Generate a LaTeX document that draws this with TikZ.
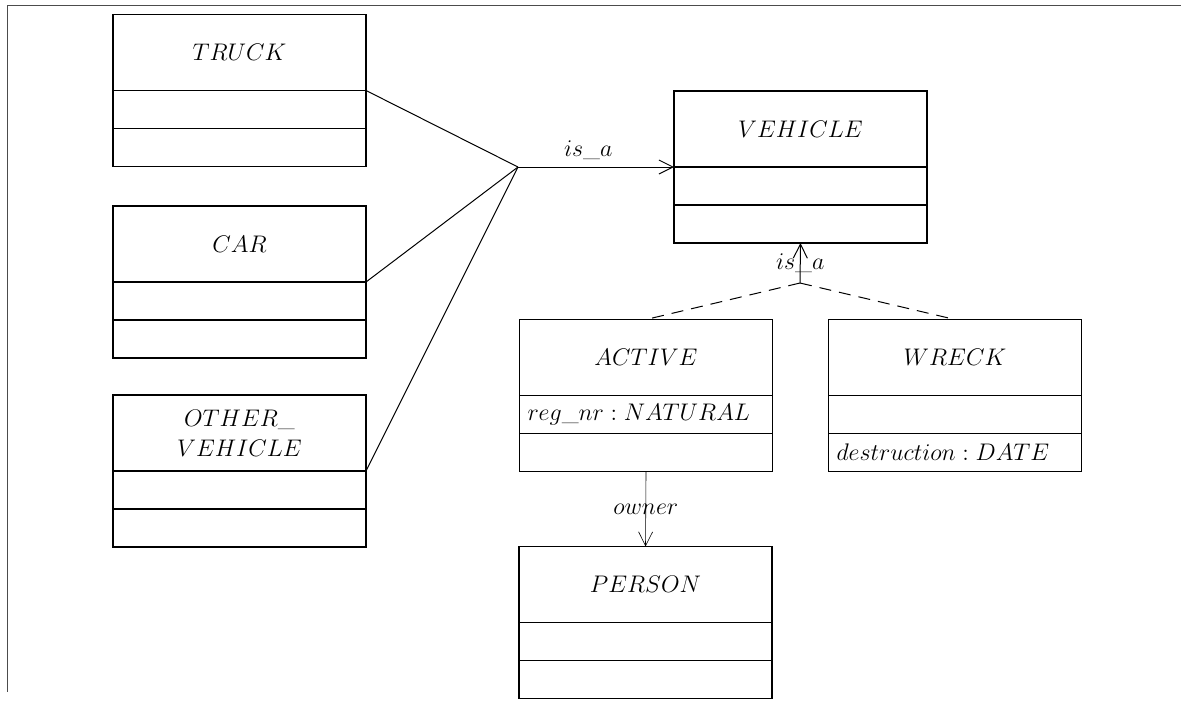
\documentclass[tikz,border=0pt]{standalone}
\usepackage{amsmath}
\usetikzlibrary{arrows.meta}
\usetikzlibrary{positioning}
\tikzstyle{cls}=[draw, rectangle, line width=.8pt, minimum width=126.5pt, minimum height=38pt, outer sep=0pt, align=center]
\tikzstyle{slot}=[draw, rectangle, line width=.8pt, minimum height=19pt, text width=118.5pt, inner xsep=4pt, inner ysep=0pt, outer sep=0pt, align=left]
\tikzstyle{lnk}=[line width=.5pt]
\tikzstyle{isa}=[lnk, -{Straight Barb[length=7pt,width=7pt]}]

\begin{document}
\begin{tikzpicture}[x=.5pt, y=-.5pt, font=\fontsize{11.5}{15}\selectfont]
    \useasboundingbox (0,0) rectangle (1181,703);
    \draw[black!70, line width=.4pt] (1181,5) -- (7,5) -- (7,692);
    % subclasses on the left
    \node[cls] (truck) at (239.5,52.5) {$TRUCK$};
    \node[slot, below=0pt of truck] (truck-a) {};
    \node[slot, below=0pt of truck-a] (truck-o) {};
    \node[cls] (car) at (239.5,244) {$CAR$};
    \node[slot, below=0pt of car] (car-a) {};
    \node[slot, below=0pt of car-a] (car-o) {};
    \node[cls] (other) at (239.5,433) {$OTHER\_$\\$VEHICLE$};
    \node[slot, below=0pt of other] (other-a) {};
    \node[slot, below=0pt of other-a] (other-o) {};
    % superclass
    \node[cls] (vehicle) at (800.5,129) {$VEHICLE$};
    \node[slot, below=0pt of vehicle] (vehicle-a) {};
    \node[slot, below=0pt of vehicle-a] (vehicle-o) {};
    % states
    \node[cls] (active) at (646,357.5) {$ACTIVE$};
    \node[slot, below=0pt of active] (active-a) {$reg\_nr : NATURAL$};
    \node[slot, below=0pt of active-a] (active-o) {};
    \node[cls] (wreck) at (955,357.5) {$WRECK$};
    \node[slot, below=0pt of wreck] (wreck-a) {};
    \node[slot, below=0pt of wreck-a] (wreck-o) {$destruction : DATE$};
    \node[cls] (person) at (645.5,584.5) {$PERSON$};
    \node[slot, below=0pt of person] (person-a) {};
    \node[slot, below=0pt of person-a] (person-o) {};
    % links
    \coordinate (fork) at (518,167);
    \coordinate (split) at (800,283);
    \foreach \from in {truck, car, other}
      \draw[lnk] (\from.south east) -- (fork);
    \draw[isa] (fork) -- node[above, pos=.45] {$is\_a$} (vehicle.south west);
    \draw[isa] (split) -- node {$is\_a$} (vehicle-o.south);
    \foreach \to in {active, wreck}
      \draw[lnk, dash pattern=on 6pt off 4pt] (split) -- (\to.north);
    \draw[isa, line width=.3pt] (active-o.south) -- node {$owner$} (person.north);
\end{tikzpicture}
\end{document}
